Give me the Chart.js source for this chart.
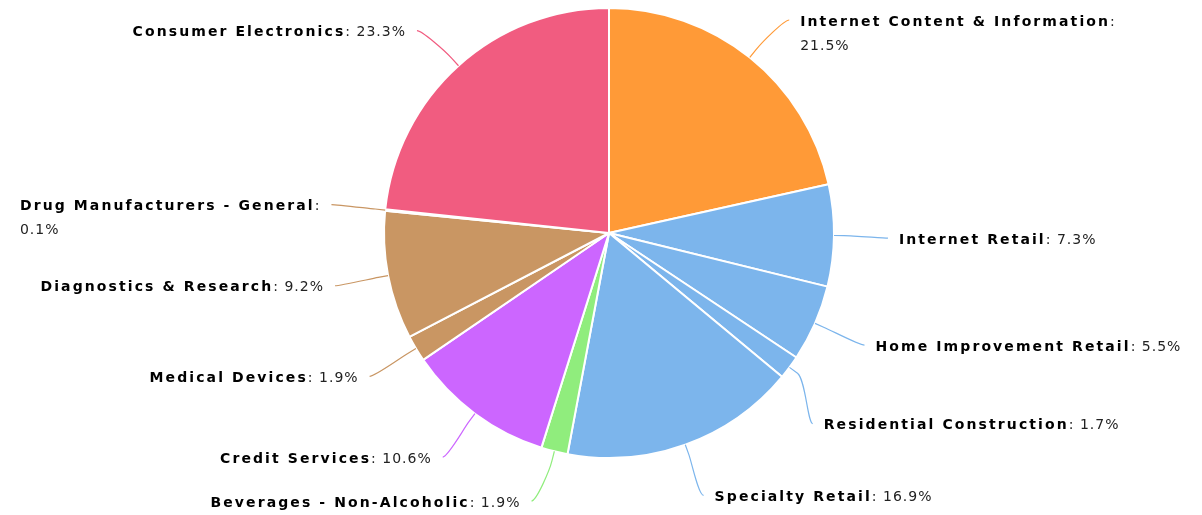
<!DOCTYPE html>
<html>
<head>
<meta charset="utf-8">
<script src="https://cdn.jsdelivr.net/npm/chart.js@4.4.0/dist/chart.umd.min.js"></script>
<style>
  html, body { margin: 0; padding: 0; background: #fff; }
  #wrap { width: 1202px; height: 515px; }
</style>
</head>
<body>
<div id="wrap"><canvas id="sectorPie" width="1202" height="515"></canvas></div>
<script>
// sector weights (%), clockwise from 12 o'clock
const sectors = [
    "Internet Content & Information",
    "Internet Retail",
    "Home Improvement Retail",
    "Residential Construction",
    "Specialty Retail",
    "Beverages - Non-Alcoholic",
    "Credit Services",
    "Medical Devices",
    "Diagnostics & Research",
    "Drug Manufacturers - General",
    "Consumer Electronics"
];
const weights = [21.5, 7.3, 5.5, 1.7, 16.9, 1.9, 10.6, 1.9, 9.2, 0.1, 23.3];

const ORANGE = "#ff9a37", BLUE = "#7cb5ec", GREEN = "#90ed7d", PURPLE = "#cc66ff", TAN = "#c99663", PINK = "#f15c80";
const sliceColors = [ORANGE, BLUE, BLUE, BLUE, BLUE, GREEN, PURPLE, TAN, TAN, TAN, PINK];

const NAME_FONT = "bold 14px 'DejaVu Sans', sans-serif";
const VALUE_FONT = "14px 'DejaVu Sans', sans-serif";

// draw text char by char so letter spacing works everywhere
function spacedWidth(ctx, str, font, sp) {
    ctx.font = font;
    let w = 0;
    for (const ch of str) w += ctx.measureText(ch).width + sp;
    return w;
}
function drawSpaced(ctx, str, x, y, font, sp, color) {
    ctx.font = font;
    ctx.fillStyle = color;
    for (const ch of str) {
        ctx.fillText(ch, x, y);
        x += ctx.measureText(ch).width + sp;
    }
    return x;
}

// outside labels with soft connectors
const outLabels = {
    id: "outLabels",
    afterDatasetsDraw(chart, args, opts) {
        const ctx = chart.ctx;
        const meta = chart.getDatasetMeta(0);
        const W = chart.width, H = chart.height;
        const lineH = opts.lineHeight;

        ctx.save();
        ctx.textBaseline = "middle";

        const items = meta.data.map((arc, i) => {
            const p = arc.getProps(["x", "y", "startAngle", "endAngle", "outerRadius"], true);
            const mid = (p.startAngle + p.endAngle) / 2;
            const cos = Math.cos(mid), sin = Math.sin(mid);
            const r = p.outerRadius;
            const R2 = r + opts.distance;
            const right = cos >= -1e-6;
            const name = sectors[i];
            const val = weights[i].toFixed(1) + "%";
            const wName = spacedWidth(ctx, name, NAME_FONT, opts.nameSpacing);
            const wColon = spacedWidth(ctx, ": ", VALUE_FONT, opts.valueSpacing);
            const wVal = spacedWidth(ctx, val, VALUE_FONT, opts.valueSpacing);
            const naturalX = p.x + R2 * cos;
            const avail = Math.min(opts.maxWidth,
                right ? W - naturalX - opts.gap - 4 : naturalX - opts.gap - 4);
            const wrap = wName + wColon + wVal > avail;
            const lines = wrap ? 2 : 1;
            return {
                i, cx: p.x, cy: p.y, r, R2, cos, sin, right, name, val,
                wName, wColon, wVal, wrap, lines,
                y: p.y + R2 * sin + (opts.shiftY[i] || 0),
                color: sliceColors[i]
            };
        });

        // keep labels inside and apart, per side
        [true, false].forEach(side => {
            const list = items.filter(it => it.right === side).sort((a, b) => a.y - b.y);
            list.forEach((it, k) => {
                const minY = k === 0 ? opts.top + lineH / 2
                    : list[k - 1].y + lineH * list[k - 1].lines;
                if (it.y < minY) it.y = minY;
            });
            for (let k = list.length - 1; k >= 0; k--) {
                const it = list[k];
                const maxY = k === list.length - 1 ? H - opts.bottom - lineH * (it.lines - 0.5)
                    : list[k + 1].y - lineH * it.lines;
                if (it.y > maxY) it.y = maxY;
            }
        });

        items.forEach(it => {
            const dy = it.y - it.cy;
            const dx = Math.sqrt(Math.max(it.R2 * it.R2 - dy * dy, 0));
            const ax = it.right ? it.cx + dx : it.cx - dx;
            const tx = it.cx + it.r * it.cos, ty = it.cy + it.r * it.sin;
            const br = it.r + opts.breakOffset;
            const bx = it.cx + br * it.cos, by = it.cy + br * it.sin;

            ctx.beginPath();
            ctx.moveTo(ax, it.y);
            ctx.bezierCurveTo(ax + (it.right ? -5 : 5), it.y, 2 * bx - tx, 2 * by - ty, bx, by);
            ctx.lineTo(tx, ty);
            ctx.strokeStyle = it.color;
            ctx.lineWidth = 1.2;
            ctx.stroke();

            const ty0 = it.y + opts.textDy;
            if (!it.wrap) {
                const total = it.wName + it.wColon + it.wVal;
                let x = it.right ? ax + opts.gap : ax - opts.gap - total;
                x = drawSpaced(ctx, it.name, x, ty0, NAME_FONT, opts.nameSpacing, "#000");
                x = drawSpaced(ctx, ": ", x, ty0, VALUE_FONT, opts.valueSpacing, "#222");
                drawSpaced(ctx, it.val, x, ty0, VALUE_FONT, opts.valueSpacing, "#222");
            } else {
                const w1 = it.wName + spacedWidth(ctx, ":", VALUE_FONT, opts.valueSpacing);
                const block = Math.max(w1, it.wVal);
                const x0 = it.right ? ax + opts.gap : ax - opts.gap - block;
                let x = drawSpaced(ctx, it.name, x0, ty0, NAME_FONT, opts.nameSpacing, "#000");
                drawSpaced(ctx, ":", x, ty0, VALUE_FONT, opts.valueSpacing, "#222");
                drawSpaced(ctx, it.val, x0, ty0 + lineH, VALUE_FONT, opts.valueSpacing, "#222");
            }
        });
        ctx.restore();
    }
};

new Chart(document.getElementById("sectorPie").getContext("2d"), {
    type: "pie",
    data: {
        labels: sectors,
        datasets: [{
            data: weights,
            backgroundColor: sliceColors,
            borderColor: "#ffffff",
            borderWidth: 2
        }]
    },
    options: {
        responsive: false,
        animation: false,
        layout: { padding: { left: 383, right: 367, top: 7, bottom: 56 } },
        plugins: {
            legend: { display: false },
            tooltip: { enabled: false },
            outLabels: {
                distance: 54,
                breakOffset: 10,
                gap: 11,
                lineHeight: 24,
                top: 8,
                bottom: 2,
                maxWidth: 330,
                textDy: 2,
                nameSpacing: 2.1,
                valueSpacing: 1.0,
                shiftY: [0, 2, 0, 24, 0, 0, 0, 0, 0, 0, 5]
            }
        }
    },
    plugins: [outLabels]
});
</script>
</body>
</html>
